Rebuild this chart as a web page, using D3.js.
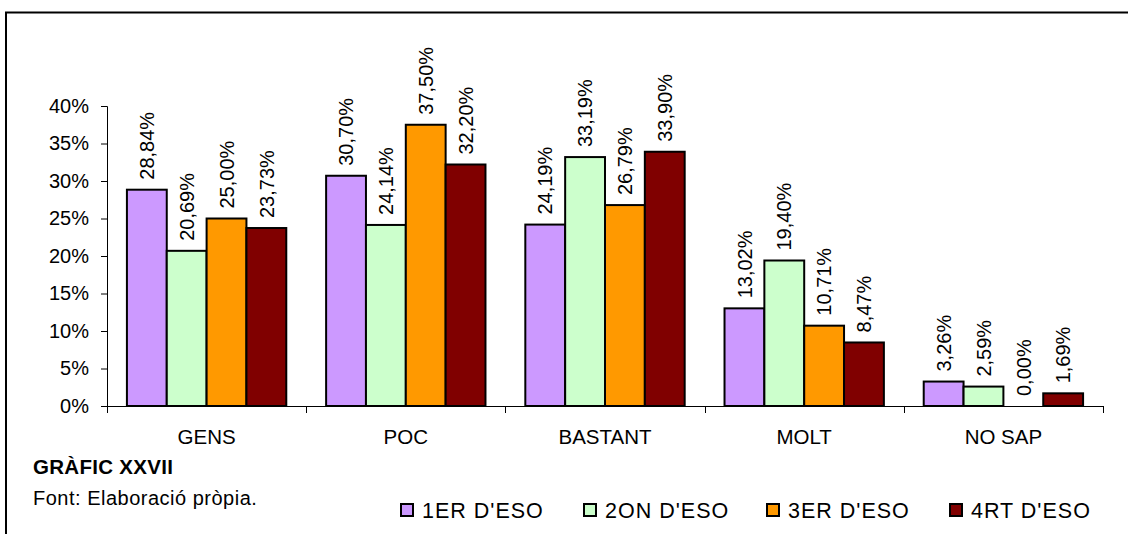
<!DOCTYPE html>
<html>
<head>
<meta charset="utf-8">
<script src="https://cdn.jsdelivr.net/npm/d3@7"></script>
<style>
  html, body { margin: 0; padding: 0; background: #fff; }
  svg { display: block; font-family: "Liberation Sans", Arial, sans-serif; }
</style>
</head>
<body>
<svg id="chart" width="1128" height="534"></svg>
<script>
const categories = ["GENS", "POC", "BASTANT", "MOLT", "NO SAP"];
const seriesNames = ["1ER D'ESO", "2ON D'ESO", "3ER D'ESO", "4RT D'ESO"];
const s1 = [28.84, 30.70, 24.19, 13.02, 3.26];
const s2 = [20.69, 24.14, 33.19, 19.40, 2.59];
const s3 = [25.00, 37.50, 26.79, 10.71, 0.00];
const s4 = [23.73, 32.20, 33.90, 8.47, 1.69];
const seriesValues = [s1, s2, s3, s4];
const colors = ["#CC99FF", "#CCFFCC", "#FF9900", "#800000"];
const yTicks = [0, 5, 10, 15, 20, 25, 30, 35, 40];
const title = "GRÀFIC XXVII";
const source = "Font: Elaboració pròpia.";

const svg = d3.select("#chart");
const FS = 20;

// outer frame
svg.append("path")
  .attr("d", "M6,540 L6,12.5 L1140,12.5")
  .attr("fill", "none").attr("stroke", "#000").attr("stroke-width", 2);

const plot = { left: 107, right: 1103, top: 106, bottom: 406 };

const x = d3.scaleBand().domain(categories).range([plot.left, plot.right]).padding(0);
const xs = d3.scaleBand().domain(seriesNames).range([0, x.bandwidth()])
  .paddingInner(0).paddingOuter(0.5);
const y = d3.scaleLinear().domain([0, 40]).range([plot.bottom, plot.top]);

const locale = d3.formatLocale({ decimal: ",", thousands: ".", grouping: [3], currency: ["", "€"] });
const fmtLabel = v => locale.format(".2f")(v) + "%";

// Y axis
const yAxis = d3.axisLeft(y).tickValues(yTicks).tickSize(6).tickPadding(12)
  .tickFormat(d => d + "%");
const gy = svg.append("g").attr("transform", `translate(${plot.left},0)`).call(yAxis);
gy.select(".domain").attr("stroke", "#000");
gy.selectAll(".tick line").attr("stroke", "#000");
gy.selectAll("text").attr("font-size", FS).attr("fill", "#000")
  .attr("font-family", "Liberation Sans, Arial, sans-serif");

// X axis line and boundary ticks
const gx = svg.append("g");
gx.append("line").attr("x1", plot.left).attr("x2", plot.right)
  .attr("y1", plot.bottom + 0.5).attr("y2", plot.bottom + 0.5).attr("stroke", "#000");
const boundaries = categories.map(c => x(c)).concat([x(categories[categories.length - 1]) + x.bandwidth()]);
gx.selectAll("line.tk").data(boundaries).enter().append("line").attr("class", "tk")
  .attr("x1", d => Math.round(d) + 0.5).attr("x2", d => Math.round(d) + 0.5)
  .attr("y1", plot.bottom).attr("y2", plot.bottom + 7).attr("stroke", "#000");
gx.selectAll("text").data(categories).enter().append("text")
  .attr("x", d => x(d) + x.bandwidth() / 2).attr("y", 444)
  .attr("text-anchor", "middle").attr("font-size", FS + 0.5).attr("fill", "#000")
  .text(d => d);

// Bars
seriesNames.forEach((s, si) => {
  const g = svg.append("g");
  const data = categories.map((c, ci) => ({ c, v: seriesValues[si][ci] }));
  g.selectAll("rect").data(data.filter(d => d.v > 0)).enter().append("rect")
    .attr("x", d => x(d.c) + xs(s))
    .attr("y", d => y(d.v))
    .attr("width", xs.bandwidth())
    .attr("height", d => y(0) - y(d.v))
    .attr("fill", colors[si]).attr("stroke", "#000").attr("stroke-width", 2);
  g.selectAll("text").data(data).enter().append("text")
    .attr("transform", d => `translate(${x(d.c) + xs(s) + xs.bandwidth() / 2},${y(d.v) - 10}) rotate(-90)`)
    .attr("dy", "0.36em")
    .attr("text-anchor", "start").attr("font-size", FS).attr("fill", "#000")
    .text(d => fmtLabel(d.v));
});

// Title and source
svg.append("text").attr("x", 33).attr("y", 474).attr("font-size", FS + 0.5)
  .attr("letter-spacing", 0.3)
  .attr("font-weight", "bold").attr("fill", "#000").text(title);
svg.append("text").attr("x", 33).attr("y", 505).attr("font-size", FS)
  .attr("letter-spacing", 0.5)
  .attr("fill", "#000").text(source);

// Legend
const legendX = d3.scaleLinear().domain([0, 1]).range([401, 584]);
const lg = svg.append("g");
const items = lg.selectAll("g").data(seriesNames).enter().append("g")
  .attr("transform", (d, i) => `translate(${legendX(i)},0)`);
items.append("rect").attr("x", 0).attr("y", 504).attr("width", 12).attr("height", 12)
  .attr("fill", (d, i) => colors[i]).attr("stroke", "#000").attr("stroke-width", 2);
items.append("text").attr("x", 21).attr("y", 518).attr("font-size", FS + 1.5)
  .attr("letter-spacing", 1)
  .attr("fill", "#000").text(d => d);
</script>
</body>
</html>
